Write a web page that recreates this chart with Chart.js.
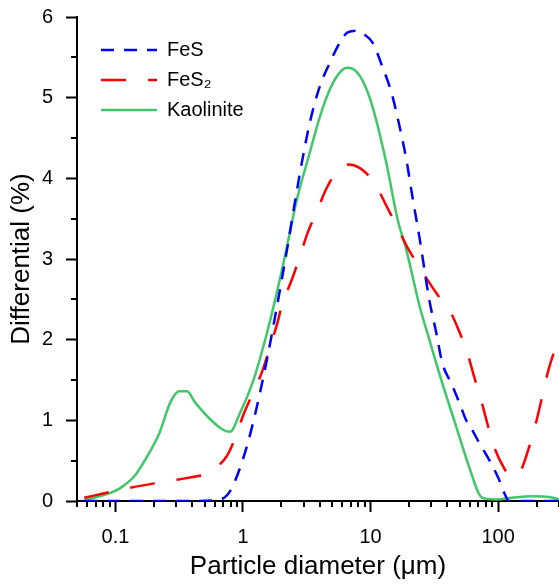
<!DOCTYPE html>
<html>
<head>
<meta charset="utf-8">
<script src="https://cdn.jsdelivr.net/npm/chart.js@4.4.1/dist/chart.umd.min.js"></script>
<style>
  html, body { margin: 0; padding: 0; background: #fff; }
  #wrap { width: 559px; height: 584px; position: relative; }
</style>
</head>
<body>
<div id="wrap"><canvas id="myChart"></canvas></div>
<script>
// particle diameter (um) and differential (%)
const fesX = [0.057, 0.1, 0.2, 0.4, 0.63, 0.79, 1.0, 1.2, 1.54, 1.84, 2.21, 2.55, 2.89, 3.34, 4.0, 4.79, 5.73, 6.61, 7.78, 8.98, 10.4, 12.4, 14.6, 16.9, 19.1, 21.3, 24.1, 28.9, 32.8, 36.5, 42.9, 49.6, 56.2, 62.7, 71.1, 85.1, 102, 111, 122, 200, 300];
const fesY = [0, 0, 0, 0, 0.01, 0.12, 0.52, 0.97, 1.75, 2.4, 3.11, 3.7, 4.19, 4.69, 5.14, 5.43, 5.68, 5.81, 5.83, 5.78, 5.68, 5.38, 5.06, 4.64, 4.23, 3.77, 3.28, 2.49, 2.08, 1.71, 1.46, 1.22, 1.0, 0.88, 0.72, 0.51, 0.26, 0.11, 0, 0, 0];

const fes2X = [0.057, 0.09, 0.136, 0.205, 0.322, 0.414, 0.496, 0.711, 0.791, 0.866, 1.02, 1.18, 1.41, 1.62, 1.84, 2.05, 2.41, 2.79, 3.22, 3.79, 4.53, 5.52, 6.73, 8.2, 9.31, 10.7, 13.3, 16.3, 19.5, 24.1, 35.9, 41.4, 49.6, 57.3, 64.9, 73.6, 82.0, 93.1, 111, 122, 138, 151, 175, 198, 221, 242, 274, 300];
const fes2Y = [0.04, 0.11, 0.17, 0.22, 0.27, 0.30, 0.33, 0.51, 0.63, 0.78, 1.09, 1.32, 1.60, 1.90, 2.18, 2.46, 2.74, 3.03, 3.33, 3.59, 3.88, 4.10, 4.17, 4.13, 4.06, 3.95, 3.66, 3.39, 3.14, 2.90, 2.49, 2.37, 2.10, 1.84, 1.54, 1.25, 0.97, 0.67, 0.41, 0.32, 0.31, 0.38, 0.67, 0.97, 1.29, 1.56, 1.84, 1.97];

const kaoX = [0.057, 0.0914, 0.109, 0.143, 0.171, 0.221, 0.269, 0.316, 0.365, 0.422, 0.686, 0.791, 0.948, 1.22, 1.54, 1.84, 2.21, 2.64, 3.34, 4.0, 4.79, 5.73, 6.61, 7.78, 8.98, 10.4, 13.3, 16.3, 19.1, 24.1, 28.9, 36.5, 47.0, 59.3, 75.0, 96.5, 128, 184, 250, 300];
const kaoY = [0.01, 0.1, 0.16, 0.32, 0.51, 0.84, 1.22, 1.36, 1.36, 1.22, 0.89, 0.86, 1.09, 1.52, 2.08, 2.58, 3.15, 3.73, 4.32, 4.76, 5.10, 5.31, 5.37, 5.32, 5.16, 4.88, 4.19, 3.49, 3.11, 2.43, 2.0, 1.46, 0.92, 0.42, 0.04, 0.02, 0.04, 0.06, 0.05, 0.02];

const seriesNames = ["FeS", "FeS\u2082", "Kaolinite"];
const xTicks = [0.1, 1, 10, 100];
const xTickLabels = ["0.1", "1", "10", "100"];

function pts(xs, ys) { return xs.map((x, i) => ({ x: x, y: ys[i] })); }

document.addEventListener("DOMContentLoaded", function () {
    Chart.defaults.font.family = "'Liberation Sans', Arial, sans-serif";
    Chart.defaults.color = '#000';

    // short ticks between the labelled ones
    const minorTicks = {
        id: 'minorTicks',
        afterDraw(chart) {
            const { ctx, scales: { x, y } } = chart;
            ctx.save();
            ctx.strokeStyle = '#000';
            ctx.lineWidth = 2;
            ctx.beginPath();
            for (let e = -2; e <= 2; e++) {
                for (let m = 2; m <= 9; m++) {
                    const v = m * Math.pow(10, e);
                    if (v < x.min * 0.999 || v > x.max * 1.001) continue;
                    const px = Math.round(x.getPixelForValue(v));
                    ctx.moveTo(px, x.top);
                    ctx.lineTo(px, x.top + 6);
                }
            }
            for (let v = 0.5; v < 6; v += 1) {
                const py = Math.round(y.getPixelForValue(v));
                ctx.moveTo(y.right, py);
                ctx.lineTo(y.right - 6, py);
            }
            ctx.stroke();
            ctx.restore();
        }
    };

    // move the legend box inside the plot
    const legendShift = {
        id: 'legendShift',
        afterLayout(chart) {
            const lg = chart.legend;
            if (!lg) return;
            lg.left += 14; lg.right += 14;
            lg.top += 30; lg.bottom += 30;
        }
    };

    const data = {
        datasets: [{
            label: seriesNames[0],
            data: pts(fesX, fesY),
            borderColor: 'rgb(0, 0, 255)',
            backgroundColor: 'rgb(0, 0, 255)',
            borderDash: [13, 10],
            borderWidth: 2.5
        }, {
            label: seriesNames[1],
            data: pts(fes2X, fes2Y),
            borderColor: 'rgb(255, 0, 0)',
            backgroundColor: 'rgb(255, 0, 0)',
            borderDash: [25, 22],
            borderWidth: 2.5
        }, {
            label: seriesNames[2],
            data: pts(kaoX, kaoY),
            borderColor: 'rgb(64, 200, 104)',
            backgroundColor: 'rgb(64, 200, 104)',
            borderWidth: 2.5
        }]
    };

    const config = {
        type: 'line',
        data: data,
        options: {
            responsive: true,
            maintainAspectRatio: false,
            animation: false,
            layout: { padding: { top: 17, left: 0, right: 0, bottom: 0 } },
            elements: {
                point: { radius: 0 },
                line: { cubicInterpolationMode: 'monotone', fill: false }
            },
            scales: {
                x: {
                    type: 'logarithmic',
                    min: 0.05,
                    max: 300,
                    afterBuildTicks(axis) {
                        axis.ticks = xTicks.map(v => ({ value: v }));
                    },
                    afterFit(axis) { axis.height = 83; axis.paddingLeft = 0; axis.paddingRight = 0; },
                    ticks: {
                        autoSkip: false,
                        maxRotation: 0,
                        padding: 13,
                        font: { size: 20 },
                        callback: function (value) {
                            const i = xTicks.indexOf(value);
                            return i >= 0 ? xTickLabels[i] : '';
                        }
                    },
                    grid: {
                        drawOnChartArea: false,
                        drawTicks: true,
                        tickLength: 11,
                        tickWidth: 2,
                        tickColor: '#000'
                    },
                    border: { display: true, color: '#000', width: 2 },
                    title: {
                        display: true,
                        text: 'Particle diameter (\u03bcm)',
                        font: { size: 26 },
                        padding: { top: 3, bottom: 2 }
                    }
                },
                y: {
                    min: 0,
                    max: 6,
                    afterFit(axis) { axis.width = 77; axis.paddingTop = 0; axis.paddingBottom = 0; },
                    ticks: {
                        stepSize: 1,
                        padding: 13,
                        font: { size: 20 }
                    },
                    grid: {
                        drawOnChartArea: false,
                        drawTicks: true,
                        tickLength: 11,
                        tickWidth: 2,
                        tickColor: '#000'
                    },
                    border: { display: true, color: '#000', width: 2 },
                    title: {
                        display: true,
                        text: 'Differential (%)',
                        font: { size: 26 },
                        padding: { top: 6, bottom: 0 }
                    }
                }
            },
            plugins: {
                legend: {
                    position: 'chartArea',
                    align: 'start',
                    labels: {
                        usePointStyle: true,
                        pointStyle: 'line',
                        pointStyleWidth: 56,
                        padding: 10,
                        color: '#000',
                        font: { size: 20 },
                        generateLabels(chart) {
                            const items = Chart.defaults.plugins.legend.labels.generateLabels(chart);
                            items.forEach(function (it, i) {
                                const ds = chart.data.datasets[i];
                                it.lineDash = ds.borderDash || [];
                                it.lineWidth = 2.5;
                                it.strokeStyle = ds.borderColor;
                                it.fillStyle = ds.borderColor;
                            });
                            return items;
                        }
                    }
                },
                tooltip: { enabled: false }
            }
        },
        plugins: [minorTicks, legendShift]
    };

    new Chart(document.getElementById('myChart'), config);
});
</script>
</body>
</html>
